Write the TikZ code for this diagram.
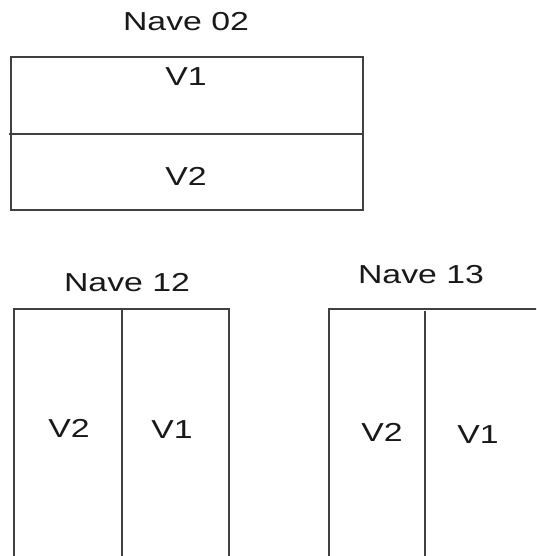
\documentclass[tikz,border=0pt]{standalone}
\usepackage{fontspec}
\setmainfont{Liberation Sans}
\newcommand{\wide}[1]{\scalebox{1.3}[1]{#1}}
\begin{document}
\begin{tikzpicture}[x=1pt,y=1pt,
  wall/.style={draw=black!75,line width=1.3pt},
  lbl/.style={font=\fontsize{26}{30}\selectfont,inner sep=0pt,text=black!90}]
\useasboundingbox (0,0) rectangle (536,556);
\clip (0,0) rectangle (536,556);
% Nave 02
\node[lbl] (t02) at (186,534) {\wide{Nave 02}};
\draw[wall] (11,499) rectangle (363,346);
\draw[wall] (9,422) -- (363,422);
\node[lbl] (a1) at (186,479) {\wide{V1}};
\node[lbl] (a2) at (186,380) {\wide{V2}};
% Nave 12
\node[lbl] (t12) at (127,273) {\wide{Nave 12}};
\draw[wall] (14,-5) -- (14,247) -- (229,247) -- (229,-5);
\draw[wall] (122,247) -- (122,-5);
\node[lbl] (b2) at (69,128) {\wide{V2}};
\node[lbl] (b1) at (172,126) {\wide{V1}};
% Nave 13
\node[lbl] (t13) at (421,281) {\wide{Nave 13}};
\draw[wall] (329,-5) -- (329,247) -- (545,247);
\draw[wall] (425,245) -- (425,-5);
\node[lbl] (c2) at (382,124) {\wide{V2}};
\node[lbl] (c1) at (478,121) {\wide{V1}};
\end{tikzpicture}
\end{document}
